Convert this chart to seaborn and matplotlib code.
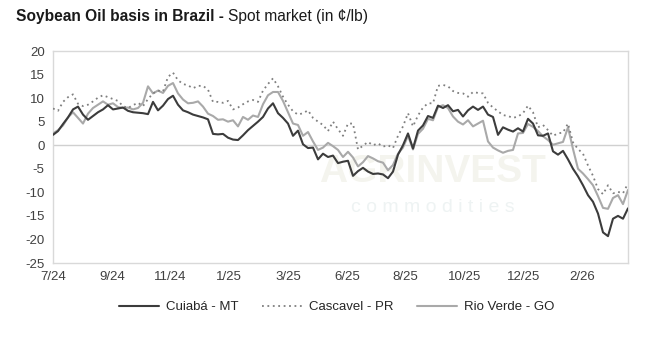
import numpy as np
import pandas as pd
import matplotlib
matplotlib.use("Agg")
import matplotlib.pyplot as plt
import seaborn as sns

tick_labels = ["7/24", "9/24", "11/24", "1/25", "3/25", "6/25", "8/25", "10/25", "12/25", "2/26"]

cuiaba = [2.2, 3.0, 4.5, 5.9, 7.6, 8.2, 6.5, 5.4, 6.2, 7.0, 7.6, 8.5, 7.6, 7.8, 8.0, 7.3, 7.0, 6.9, 6.8, 6.6,
          9.2, 7.4, 8.4, 9.8, 10.5, 8.6, 7.4, 7.0, 6.5, 6.2, 5.9, 5.5, 2.4, 2.3, 2.4, 1.6, 1.2, 1.1, 2.1, 3.2,
          4.1, 5.0, 6.0, 7.8, 8.9, 6.8, 5.8, 4.6, 2.0, 3.1, 0.2, -0.6, -0.5, -3.0, -1.8, -2.5, -2.2, -3.8, -3.5, -3.3,
          -6.5, -5.5, -4.8, -5.6, -6.1, -6.0, -6.2, -7.0, -5.6, -2.0, 0.0, 2.5, -0.7, 3.1, 4.2, 6.2, 5.8, 8.4, 7.9, 8.5,
          7.2, 7.5, 6.1, 7.4, 8.2, 7.5, 8.2, 6.5, 6.0, 2.2, 3.8, 3.3, 2.9, 3.6, 2.9, 5.6, 4.6, 2.1, 2.0, 2.5,
          -1.3, -2.0, -1.2, -3.0, -5.0, -6.6, -8.5, -10.6, -12.0, -14.5, -18.5, -19.3, -15.6, -15.0, -15.6, -13.4]

cascavel = [7.8, 7.3, 9.2, 10.2, 10.8, 8.8, 8.3, 8.6, 9.3, 10.1, 10.6, 10.2, 9.8, 9.4, 8.3, 7.9, 8.5, 9.0, 8.3, 9.8,
            11.0, 11.6, 11.4, 14.5, 15.4, 13.8, 13.0, 12.7, 12.1, 12.6, 12.6, 11.8, 9.2, 9.2, 9.0, 9.4, 7.6, 8.0, 8.7, 9.3,
            9.6, 9.2, 11.6, 13.0, 14.2, 12.5, 10.3, 8.6, 7.2, 6.5, 6.8, 7.4, 5.8, 5.0, 4.3, 3.0, 5.0, 3.4, 2.0, 4.6,
            4.6, -0.9, -0.1, 0.7, 0.0, 0.4, -0.3, 0.0, -0.6, 2.0, 4.0, 6.8, 4.0, 6.3, 8.0, 8.9, 8.9, 12.6, 12.8, 12.5,
            11.5, 11.1, 11.0, 10.3, 11.3, 11.1, 11.0, 9.0, 8.0, 7.2, 6.4, 6.2, 5.8, 6.1, 6.8, 8.4, 7.0, 3.8, 4.3, 3.2,
            2.0, 2.5, 2.7, 4.6, 0.6, -0.8, -1.8, -4.3, -6.5, -9.3, -10.4, -8.5, -10.2, -9.9, -10.2, -8.1]

rio_verde = [2.5, 3.2, 4.2, 5.9, 7.0, 5.8, 4.6, 6.7, 7.9, 8.6, 9.3, 8.6, 8.9, 8.1, 7.9, 8.0, 7.6, 7.9, 9.0, 12.5,
             11.0, 11.6, 11.1, 12.6, 13.2, 11.0, 9.7, 8.9, 9.0, 9.3, 8.2, 6.7, 6.2, 5.4, 5.5, 5.0, 5.3, 4.0, 6.0, 5.4,
             6.3, 6.0, 8.7, 10.6, 11.3, 11.3, 9.4, 7.0, 4.6, 4.3, 2.0, 2.8, 0.8, -1.0, -0.5, 0.5, -0.2, -1.0, -2.5, -1.4,
             -2.6, -4.5, -3.6, -2.3, -2.8, -3.4, -3.7, -5.3, -4.2, -1.8, -0.5, 2.0, -0.9, 2.4, 3.5, 5.6, 5.3, 8.1, 8.5, 7.9,
             6.1, 5.0, 4.4, 5.3, 4.0, 4.6, 5.2, 0.8, -0.5, -1.1, -1.6, -1.2, -1.0, 2.5, 2.6, 4.5, 3.9, 3.0, 1.9, 1.1,
             0.1, 0.4, 0.7, 3.8, -0.8, -5.0, -6.0, -7.2, -8.5, -10.8, -13.3, -13.5, -11.2, -10.6, -12.5, -9.5]

series_names = ["Cuiabá - MT", "Cascavel - PR", "Rio Verde - GO"]

n = len(cuiaba)
idx = np.arange(n)
df = pd.DataFrame({"i": idx, series_names[0]: cuiaba, series_names[1]: cascavel, series_names[2]: rio_verde})
long = df.melt(id_vars="i", var_name="series", value_name="value")

sns.set_theme(style="white")
plt.rcParams['font.family'] = ['Liberation Sans', 'DejaVu Sans']

fig = plt.figure(figsize=(6.49, 3.45), dpi=100)
ax = fig.add_axes([53/649, 1 - 263/345, 575/649, 212/345])

# faint watermark
ax.text(0.66, 0.43, "AGRINVEST", transform=ax.transAxes, ha="center", va="center",
        fontsize=28, fontweight="bold", color="#f4f4ee", zorder=0)
ax.text(0.66, 0.26, "c o m m o d i t i e s", transform=ax.transAxes, ha="center", va="center",
        fontsize=14, color="#eef3f3", zorder=0)

ax.axhline(0, color="#d0d0d0", lw=1.0, zorder=1)

styles = {
    series_names[0]: dict(color="#3c3c3c", lw=1.5, ls="-"),
    series_names[1]: dict(color="#7f7f7f", lw=1.3, ls=(0, (1, 2))),
    series_names[2]: dict(color="#a9a9a9", lw=1.5, ls="-"),
}
for name in [series_names[2], series_names[1], series_names[0]]:
    sub = long[long["series"] == name]
    st = styles[name]
    sns.lineplot(data=sub, x="i", y="value", ax=ax, color=st["color"], lw=st["lw"],
                 linestyle=st["ls"], label=name, zorder=3)

ax.set_xlim(0, n - 1)
ax.set_ylim(-25, 20)
ax.set_yticks(np.arange(-25, 21, 5))
ax.set_yticklabels([str(v) for v in np.arange(-25, 21, 5)])
xt = np.linspace(0, 105.8, len(tick_labels))
ax.set_xticks(xt)
ax.set_xticklabels(tick_labels)
ax.set_xlabel("")
ax.set_ylabel("")
ax.tick_params(axis="both", length=0, labelsize=9.5, colors="#404040", pad=6)
for s in ax.spines.values():
    s.set_color("#d9d9d9")
    s.set_linewidth(1.0)

handles, labels = ax.get_legend_handles_labels()
order = [labels.index(nm) for nm in series_names]
leg = ax.legend([handles[i] for i in order], [labels[i] for i in order],
                loc="center", bbox_to_anchor=(337/649, 1 - 307/345), bbox_transform=fig.transFigure,
                ncol=3, frameon=False, fontsize=9.5, handlelength=3.0, columnspacing=1.8, handletextpad=0.55)
for t in leg.get_texts():
    t.set_color("#262626")

t1 = fig.text(16/649, 1 - 17/345, "Soybean Oil basis in Brazil - ", fontsize=11.2, fontweight="bold",
              color="#1a1a1a", ha="left", va="center")
fig.canvas.draw()
bb = t1.get_window_extent()
fig.text(bb.x1 / fig.bbox.width, 1 - 17/345, "Spot market (in ¢/lb)", fontsize=11.2,
         color="#1a1a1a", ha="left", va="center")

fig.savefig("out.png", dpi=100)
